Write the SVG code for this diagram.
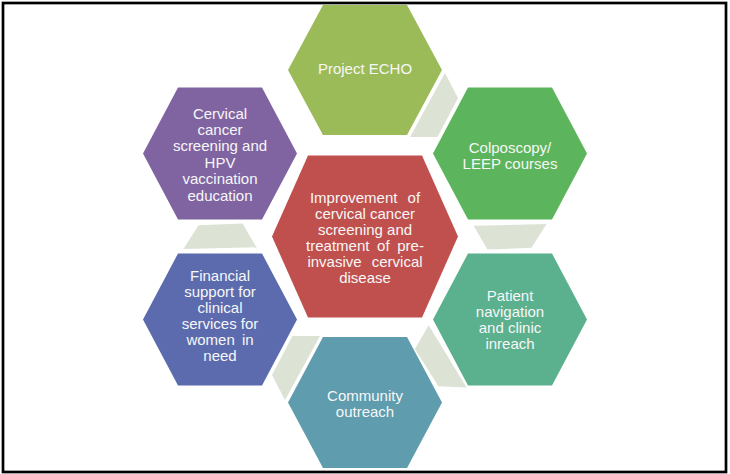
<svg xmlns="http://www.w3.org/2000/svg" width="730" height="474" viewBox="0 0 730 474">
<style>
.t{font-family:"Liberation Sans",Arial,sans-serif;font-size:15px;fill:#F7F7F7;text-anchor:middle}
.c{fill:#DCE2D4}
</style>
<defs>
<polygon id="conn" points="445,73 458,98 437.5,137 410,137"/>
</defs>
<rect x="0" y="0" width="730" height="474" fill="#FFFFFF"/>
<rect x="3" y="3" width="723" height="469" fill="none" stroke="#000000" stroke-width="2.7"/>
<g id="connectors">
<use href="#conn" class="c"/>
<use href="#conn" class="c" transform="rotate(60 365 236.5)"/>
<use href="#conn" class="c" transform="rotate(120 365 236.5)"/>
<use href="#conn" class="c" transform="rotate(180 365 236.5)"/>
<use href="#conn" class="c" transform="rotate(240 365 236.5)"/>
</g>
<g id="echo">
<polygon points="288,70 323,5 407,5 442,70 407,135 323,135" fill="#9BBB59"/>
<text class="t" x="365" y="73.5">Project ECHO</text>
</g>
<g id="colposcopy">
<polygon points="433,153.5 468,87.5 552,87.5 587,153.5 552,219.5 468,219.5" fill="#5CB55C"/>
<text class="t" x="510" y="152.5">Colposcopy/</text>
<text class="t" x="510" y="168.5">LEEP courses</text>
</g>
<g id="cervical">
<polygon points="143,153.5 178,87.5 262,87.5 297,153.5 262,219.5 178,219.5" fill="#8064A2"/>
<text class="t" x="220" y="118.5">Cervical</text>
<text class="t" x="220" y="134.9">cancer</text>
<text class="t" x="220" y="151.3">screening and</text>
<text class="t" x="220" y="167.7">HPV</text>
<text class="t" x="220" y="184.1">vaccination</text>
<text class="t" x="220" y="200.5">education</text>
</g>
<g id="center">
<polygon points="272,236.5 308,155.5 422,155.5 458,236.5 422,317.5 308,317.5" fill="#C0504D"/>
<text class="t" x="365" y="202.5" word-spacing="6">Improvement of</text>
<text class="t" x="365" y="218.5">cervical cancer</text>
<text class="t" x="365" y="234.5">screening and</text>
<text class="t" x="365" y="250.5" word-spacing="3.5">treatment of pre-</text>
<text class="t" x="365" y="266.5" word-spacing="6">invasive cervical</text>
<text class="t" x="365" y="282.5">disease</text>
</g>
<g id="financial">
<polygon points="143,319.5 178,253.5 262,253.5 297,319.5 262,385.5 178,385.5" fill="#5B6BAE"/>
<text class="t" x="220" y="280.5">Financial</text>
<text class="t" x="220" y="296.5">support for</text>
<text class="t" x="220" y="312.5">clinical</text>
<text class="t" x="220" y="328.5">services for</text>
<text class="t" x="220" y="344.5" word-spacing="3">women in</text>
<text class="t" x="220" y="360.5">need</text>
</g>
<g id="patient">
<polygon points="433,319.5 468,253.5 552,253.5 587,319.5 552,385.5 468,385.5" fill="#5BB08E"/>
<text class="t" x="510" y="300.5">Patient</text>
<text class="t" x="510" y="316.5">navigation</text>
<text class="t" x="510" y="332.5">and clinic</text>
<text class="t" x="510" y="348.5">inreach</text>
</g>
<g id="community">
<polygon points="288,402.5 323,337 407,337 442,402.5 407,468 323,468" fill="#5E9CAE"/>
<text class="t" x="365" y="400.5">Community</text>
<text class="t" x="365" y="416.5">outreach</text>
</g>
</svg>
